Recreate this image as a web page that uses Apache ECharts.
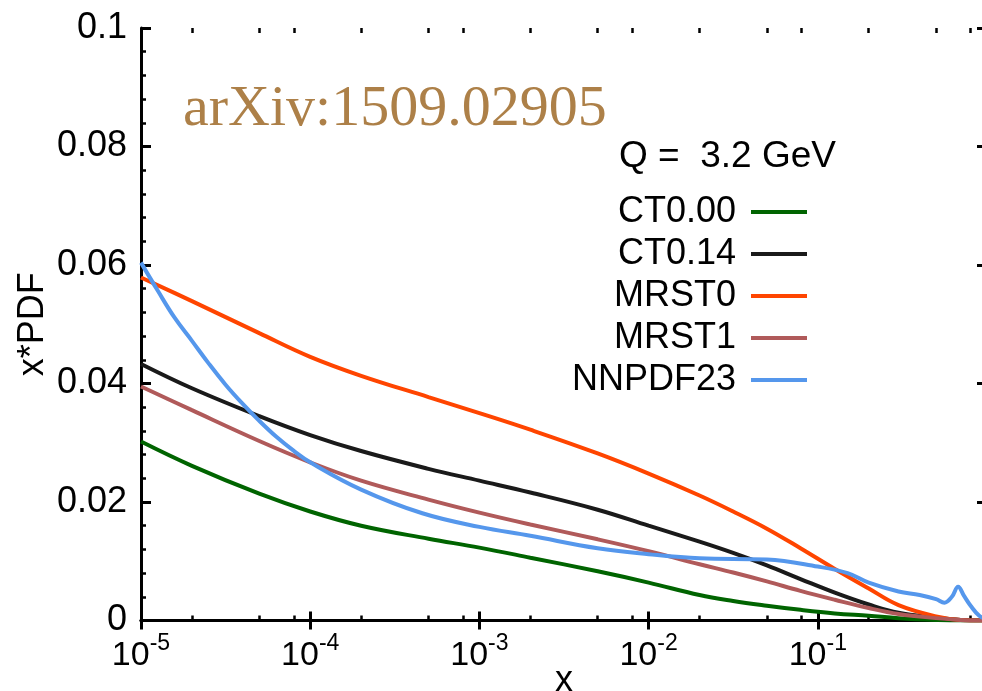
<!DOCTYPE html>
<html>
<head>
<meta charset="utf-8">
<script src="https://cdn.jsdelivr.net/npm/echarts@6/dist/echarts.min.js"></script>
<style>
html,body{margin:0;padding:0;background:#fff;}
#c{width:982px;height:691px;}
</style>
</head>
<body>
<div id="c"></div>
<script>
// ---- data ----
const xValues = [1e-5, 2e-5, 5e-5, 1e-4, 2e-4, 5e-4, 1e-3, 2e-3, 5e-3, 1e-2, 2e-2, 3.16e-2, 5e-2, 7.9e-2, 0.126, 0.2, 0.3, 0.5, 0.7, 1];
const ct000  = [0.0302, 0.0261, 0.0214, 0.0184, 0.0160, 0.0138, 0.0123, 0.0106, 0.0083, 0.0064, 0.0043, 0.0033, 0.0025, 0.0018, 0.0012, 0.0008, 0.0004, 0.0001, 0.0000, 0];
const ct014  = [0.0433, 0.0392, 0.0345, 0.0313, 0.0286, 0.0256, 0.0236, 0.0216, 0.0187, 0.0160, 0.0133, 0.0114, 0.0093, 0.0070, 0.0047, 0.0027, 0.0013, 0.0005, 0.0001, 0];
const mrst0  = [0.0579, 0.0539, 0.0485, 0.0445, 0.0413, 0.0377, 0.0350, 0.0322, 0.0282, 0.0248, 0.0211, 0.0184, 0.0155, 0.0122, 0.0087, 0.0054, 0.0026, 0.0007, 0.0001, 0];
const mrst1  = [0.0395, 0.0355, 0.0303, 0.0267, 0.0236, 0.0204, 0.0182, 0.0162, 0.0137, 0.0117, 0.0095, 0.0081, 0.0066, 0.0050, 0.0035, 0.0021, 0.0011, 0.0004, 0.0001, 0];
const nnpdfX = [1e-5, 1.26e-5, 1.58e-5, 2e-5, 2.51e-5, 3.16e-5, 3.98e-5, 5e-5, 6.31e-5, 7.94e-5, 1e-4, 2e-4, 4.6e-4, 1e-3, 2e-3, 5e-3, 1e-2, 2e-2, 5e-2, 0.1, 0.15, 0.2, 0.3, 0.4, 0.5, 0.56, 0.62, 0.675, 0.73, 0.8, 0.9, 1];
const nnpdf23 = [0.0604, 0.0556, 0.0511, 0.0472, 0.0434, 0.0398, 0.0366, 0.0337, 0.0310, 0.0287, 0.0267, 0.0221, 0.0181, 0.0158, 0.0143, 0.0122, 0.0112, 0.0105, 0.0103, 0.0091, 0.0080, 0.0064, 0.0049, 0.0043, 0.0036, 0.0030, 0.0040, 0.0057, 0.0042, 0.0025, 0.0008, 0.0002];

const seriesNames = ['CT0.00', 'CT0.14', 'MRST0', 'MRST1', 'NNPDF23'];
const seriesColors = ['#006400', '#1a1a1a', '#ff4500', '#b05a5a', '#5597ec'];

const xTickExponents = ['-5', '-4', '-3', '-2', '-1', '0'];
const xMinorTicks = [2e-5, 5e-5, 8e-5, 2e-4, 5e-4, 8e-4, 2e-3, 5e-3, 8e-3, 2e-2, 5e-2, 8e-2, 0.2, 0.5, 0.8];
const yTickLabels = ['0', '0.02', '0.04', '0.06', '0.08', '0.1'];

const titleText = 'arXiv:1509.02905';
const qText = 'Q =  3.2 GeV';
const xName = 'x';
const yName = 'x*PDF';

// ---- chart ----
const FONT = '"Liberation Sans", Arial, Helvetica, sans-serif';
const chart = echarts.init(document.getElementById('c'), null, {renderer: 'canvas'});

const gridBox = {left: 141, top: 28, right: -5, bottom: 70.5, outerBoundsMode: 'none', containLabel: false};

function majorX(pos, withLabels) {
  return {
    type: 'log', logBase: 10, min: 1e-5, max: 1, splitNumber: 5,
    gridIndex: 0, position: pos,
    axisLine: {show: true, lineStyle: {color: '#000', width: 3}},
    axisTick: {show: true, inside: true, length: 9, lineStyle: {color: '#000', width: 3}},
    splitLine: {show: false},
    axisLabel: withLabels ? {
      show: true, margin: 12, showMaxLabel: false, showMinLabel: true,
      formatter: function (v) {
        const e = Math.round(Math.log10(v));
        const lab = xTickExponents[e + 5];
        return '{b|10}{s|' + lab + '}';
      },
      rich: {
        b: {fontSize: 34, fontFamily: FONT, color: '#000', lineHeight: 40, verticalAlign: 'bottom'},
        s: {fontSize: 23, fontFamily: FONT, color: '#000', lineHeight: 23, verticalAlign: 'top', padding: [0, 0, 6, 0]}
      }
    } : {show: false},
    name: withLabels ? xName : '',
    nameLocation: 'middle', nameGap: 43, nameMoveOverlap: false,
    nameTextStyle: {fontSize: 36, fontFamily: FONT, color: '#000'}
  };
}
function minorX(pos) {
  return {
    type: 'log', logBase: 10, min: 1e-5, max: 1,
    gridIndex: 1, position: pos,
    axisLine: {show: false},
    axisTick: {show: true, inside: true, length: 5, customValues: xMinorTicks, lineStyle: {color: '#000', width: 2.5}},
    splitLine: {show: false},
    axisLabel: {show: false}
  };
}
function yAx(pos, gridIndex, withLabels) {
  return {
    type: 'value', min: 0, max: 0.1, interval: 0.02,
    gridIndex: gridIndex, position: pos,
    axisLine: {show: gridIndex === 0, lineStyle: {color: '#000', width: 3}},
    axisTick: {show: gridIndex === 0, inside: true, length: 10, lineStyle: {color: '#000', width: 3}},
    minorTick: {show: gridIndex === 0, splitNumber: 5, length: 5, lineStyle: {color: '#000', width: 2.5}},
    splitLine: {show: false},
    minorSplitLine: {show: false},
    axisLabel: withLabels ? {
      show: true, margin: 14, color: '#000', fontSize: 36, fontFamily: FONT,
      formatter: function (v, i) { return yTickLabels[i]; }
    } : {show: false},
    name: withLabels ? yName : '',
    nameLocation: 'middle', nameGap: 90, nameRotate: 90, nameMoveOverlap: false,
    nameTextStyle: {fontSize: 36, fontFamily: FONT, color: '#000'}
  };
}

function mk(name, xs, ys, color) {
  return {
    name: name, type: 'line', xAxisIndex: 0, yAxisIndex: 0,
    data: xs.map((x, i) => [x, ys[i]]),
    symbol: 'none', smooth: 0.4, clip: true,
    color: color,
    lineStyle: {color: color, width: 4},
    emphasis: {disabled: true}
  };
}

const option = {
  animation: false,
  backgroundColor: '#fff',
  grid: [Object.assign({}, gridBox), Object.assign({}, gridBox)],
  xAxis: [majorX('bottom', true), majorX('top', false), minorX('bottom'), minorX('top')],
  yAxis: [yAx('left', 0, true), yAx('right', 0, false), yAx('left', 1, false)],
  legend: {
    orient: 'vertical', right: 170, top: 189, align: 'right',
    itemWidth: 56, itemHeight: 4, itemGap: 6, icon: 'rect',
    textStyle: {fontSize: 36, fontFamily: FONT, color: '#000', lineHeight: 36, padding: [0, 10, 0, 0]},
    data: seriesNames
  },
  graphic: [
    {type: 'text', x: 183, y: 110, style: {text: titleText, fontSize: 58, fontFamily: '"Liberation Serif", "Times New Roman", serif', fill: '#ad8048', align: 'left', verticalAlign: 'middle'}},
    {type: 'text', x: 619, y: 157, style: {text: qText, fontSize: 37, fontFamily: FONT, fill: '#000', align: 'left', verticalAlign: 'middle'}}
  ],
  series: [
    mk(seriesNames[0], xValues, ct000, seriesColors[0]),
    mk(seriesNames[1], xValues, ct014, seriesColors[1]),
    mk(seriesNames[2], xValues, mrst0, seriesColors[2]),
    mk(seriesNames[3], xValues, mrst1, seriesColors[3]),
    mk(seriesNames[4], nnpdfX, nnpdf23, seriesColors[4])
  ]
};
chart.setOption(option);
</script>
</body>
</html>
